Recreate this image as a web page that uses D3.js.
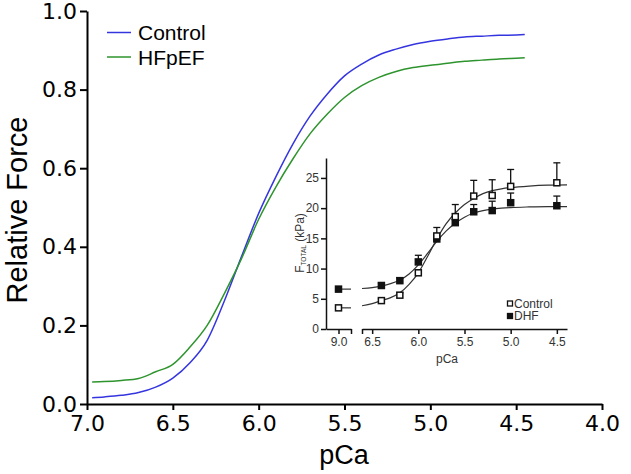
<!DOCTYPE html>
<html>
<head>
<meta charset="utf-8">
<script src="https://cdn.jsdelivr.net/npm/d3@7"></script>
<style>
  body { margin: 0; background: #fff; }
  svg { display: block; }
</style>
</head>
<body>
<svg id="chart" width="631" height="474"></svg>
<script>
// main panel: relative force vs pCa
var pCaMain = [6.97, 6.9, 6.8, 6.7, 6.6, 6.5, 6.4, 6.3, 6.2, 6.1, 6.0, 5.9, 5.8, 5.7, 5.6, 5.5, 5.4, 5.3, 5.2, 5.1, 5.0, 4.9, 4.8, 4.7, 4.6, 4.5, 4.45];
var controlForce = [0.016, 0.018, 0.022, 0.029, 0.043, 0.066, 0.105, 0.162, 0.262, 0.375, 0.485, 0.578, 0.662, 0.733, 0.789, 0.835, 0.865, 0.888, 0.903, 0.915, 0.923, 0.929, 0.934, 0.936, 0.938, 0.939, 0.94];
var hfpefForce = [0.056, 0.057, 0.06, 0.065, 0.082, 0.101, 0.145, 0.2, 0.281, 0.37, 0.47, 0.552, 0.624, 0.688, 0.738, 0.78, 0.81, 0.831, 0.846, 0.856, 0.862, 0.867, 0.872, 0.875, 0.878, 0.88, 0.881];
var xTicks = [7.0, 6.5, 6.0, 5.5, 5.0, 4.5, 4.0];
var yTicks = [0.0, 0.2, 0.4, 0.6, 0.8, 1.0];
var seriesNames = ['Control', 'HFpEF'];
var seriesColors = ['#3535e0', '#2e942e'];

// inset: F total (kPa) vs pCa, measured points with SEM
var insetPCa = [9.0, 6.4, 6.2, 6.0, 5.8, 5.6, 5.4, 5.2, 5.0, 4.5];
var ctrlKPa = [3.5, 4.7, 5.6, 9.3, 15.4, 18.6, 22.0, 22.1, 23.6, 24.2];
var ctrlSem = [0.3, 0.3, 0.4, 0.5, 1.4, 2.0, 2.6, 2.6, 2.8, 3.3];
var dhfKPa = [6.6, 7.2, 8.0, 11.1, 14.9, 17.6, 19.4, 19.6, 20.9, 20.4];
var dhfSem = [0.4, 0.4, 0.5, 1.1, 0.8, 1.0, 1.2, 1.55, 1.6, 1.6];
// fitted curves in the inset
var fitPCa = [6.61, 6.5, 6.4, 6.3, 6.2, 6.1, 6.0, 5.9, 5.8, 5.7, 5.6, 5.5, 5.4, 5.3, 5.2, 5.1, 5.0, 4.8, 4.6, 4.39];
var ctrlFit = [3.85, 4.2, 4.7, 5.2, 6.0, 7.4, 9.3, 12.0, 14.9, 17.4, 19.2, 20.6, 21.6, 22.4, 22.9, 23.2, 23.4, 23.65, 23.8, 23.85];
var dhfFit = [6.7, 6.85, 7.1, 7.5, 8.1, 9.1, 10.6, 12.5, 14.5, 16.2, 17.5, 18.5, 19.2, 19.6, 19.85, 20.0, 20.1, 20.2, 20.25, 20.25];
var stubPCa = [9.0, 8.85];
var insetYTicks = [0, 5, 10, 15, 20, 25];
var insetXTicksLeft = [9.0];
var insetXTicksRight = [6.5, 6.0, 5.5, 5.0, 4.5];
var insetNames = ['Control', 'DHF'];

var svg = d3.select('#chart');

var x = d3.scaleLinear().domain([7.0, 4.0]).range([87, 602]);
var y = d3.scaleLinear().domain([0, 1.0]).range([404, 11]);

var fmt1 = d3.format('.1f');

var gx = svg.append('g')
    .attr('transform', 'translate(0,404)')
    .call(d3.axisBottom(x).tickValues(xTicks).tickFormat(fmt1).tickSize(6).tickSizeOuter(0).tickPadding(5));
var gy = svg.append('g')
    .attr('transform', 'translate(87,0)')
    .call(d3.axisLeft(y).tickValues(yTicks).tickFormat(fmt1).tickSize(7).tickSizeOuter(0).tickPadding(3));

[gx, gy].forEach(function(g) {
    g.selectAll('.domain').attr('stroke', '#000').attr('stroke-width', 2);
    g.selectAll('.tick line').attr('stroke', '#000').attr('stroke-width', 2);
    g.selectAll('.tick text')
        .attr('fill', '#000')
        .style('font-family', 'DejaVu Sans')
        .style('font-size', '22px');
});

svg.append('text')
    .attr('transform', 'translate(27,210) rotate(-90)')
    .attr('text-anchor', 'middle')
    .style('font-family', 'Liberation Sans')
    .style('font-size', '29px')
    .text('Relative Force');

svg.append('text')
    .attr('x', 344)
    .attr('y', 464)
    .attr('text-anchor', 'middle')
    .style('font-family', 'Liberation Sans')
    .style('font-size', '27px')
    .text('pCa');

var line = d3.line()
    .curve(d3.curveMonotoneX)
    .x(function(d) { return x(d[0]); })
    .y(function(d) { return y(d[1]); });

[controlForce, hfpefForce].forEach(function(vals, i) {
    svg.append('path')
        .datum(pCaMain.map(function(p, j) { return [p, vals[j]]; }))
        .attr('fill', 'none')
        .attr('stroke', seriesColors[i])
        .attr('stroke-width', 1.5)
        .attr('d', line);
});

// legend
seriesNames.forEach(function(name, i) {
    var ly = 32.5 + i * 24.5;
    svg.append('line')
        .attr('x1', 107).attr('x2', 131)
        .attr('y1', ly).attr('y2', ly)
        .attr('stroke', seriesColors[i])
        .attr('stroke-width', 1.5);
    svg.append('text')
        .attr('x', 138)
        .attr('y', ly + 7.5)
        .style('font-family', 'Liberation Sans')
        .style('font-size', '21px')
        .text(name);
});

// ---- inset ----
var ixL = d3.scaleLinear().domain([9.15, 8.85]).range([326, 351]);
var ixR = d3.scaleLinear().domain([6.61, 4.39]).range([362, 567]);
var iy = d3.scaleLinear().domain([0, 28.3]).range([329, 158]);

function ix(p) {
    return p > 7 ? ixL(p) : ixR(p);
}

var inset = svg.append('g');

var iFmt = function(d) { return fmt1(d); };

var iyAxis = inset.append('g')
    .attr('transform', 'translate(326,0)')
    .call(d3.axisLeft(iy).tickValues(insetYTicks).tickSize(5).tickSizeOuter(0).tickPadding(2));
var ixAxisL = inset.append('g')
    .attr('transform', 'translate(0,329)')
    .call(d3.axisBottom(ixL).tickValues(insetXTicksLeft.concat([8.85])).tickFormat(function(d) { return d === 8.85 ? '' : iFmt(d); }).tickSize(5).tickSizeOuter(0).tickPadding(3));
var ixAxisR = inset.append('g')
    .attr('transform', 'translate(0,329)')
    .call(d3.axisBottom(ixR).tickValues([6.61].concat(insetXTicksRight)).tickFormat(function(d) { return d === 6.61 ? '' : iFmt(d); }).tickSize(5).tickSizeOuter(0).tickPadding(3));

[iyAxis, ixAxisL, ixAxisR].forEach(function(g) {
    g.selectAll('.domain').attr('stroke', '#111').attr('stroke-width', 1.5);
    g.selectAll('.tick line').attr('stroke', '#111').attr('stroke-width', 1.5);
    g.selectAll('.tick text')
        .attr('fill', '#333')
        .style('font-family', 'Liberation Sans')
        .style('font-size', '12px');
});

var ylab = inset.append('text')
    .attr('transform', 'translate(304,243) rotate(-90)')
    .attr('text-anchor', 'middle')
    .attr('fill', '#333')
    .style('font-family', 'Liberation Sans')
    .style('font-size', '12px');
ylab.append('tspan').text('F');
ylab.append('tspan').attr('dy', 2).style('font-size', '6.5px').text('TOTAL');
ylab.append('tspan').attr('dy', -2).text(' (kPa)');

inset.append('text')
    .attr('x', 447)
    .attr('y', 363)
    .attr('text-anchor', 'middle')
    .attr('fill', '#333')
    .style('font-family', 'Liberation Sans')
    .style('font-size', '12px')
    .text('pCa');

var iline = d3.line()
    .curve(d3.curveMonotoneX)
    .x(function(d) { return ix(d[0]); })
    .y(function(d) { return iy(d[1]); });

[ctrlFit, dhfFit].forEach(function(vals) {
    inset.append('path')
        .datum(fitPCa.map(function(p, j) { return [p, vals[j]]; }))
        .attr('fill', 'none')
        .attr('stroke', '#333')
        .attr('stroke-width', 1.2)
        .attr('d', iline);
});
// short stubs beside the pCa 9.0 points
[ctrlKPa[0], dhfKPa[0]].forEach(function(v) {
    inset.append('path')
        .datum(stubPCa.map(function(p) { return [p, v]; }))
        .attr('fill', 'none')
        .attr('stroke', '#333')
        .attr('stroke-width', 1.2)
        .attr('d', iline);
});

// error bars (upward only)
[[ctrlKPa, ctrlSem], [dhfKPa, dhfSem]].forEach(function(s) {
    insetPCa.forEach(function(p, j) {
        var cx = ix(p), y0 = iy(s[0][j]), y1 = iy(s[0][j] + s[1][j]);
        inset.append('line')
            .attr('x1', cx).attr('x2', cx).attr('y1', y0).attr('y2', y1)
            .attr('stroke', '#111').attr('stroke-width', 1.3);
        inset.append('line')
            .attr('x1', cx - 3.5).attr('x2', cx + 3.5).attr('y1', y1).attr('y2', y1)
            .attr('stroke', '#111').attr('stroke-width', 1.3);
    });
});

function squares(vals, filled) {
    inset.selectAll(null)
        .data(insetPCa.map(function(p, j) { return [p, vals[j]]; }))
        .enter().append('rect')
        .attr('x', function(d) { return ix(d[0]) - 3; })
        .attr('y', function(d) { return iy(d[1]) - 3; })
        .attr('width', 6)
        .attr('height', 6)
        .attr('fill', filled ? '#111' : '#fff')
        .attr('stroke', '#111')
        .attr('stroke-width', 1.5);
}
squares(dhfKPa, true);
squares(ctrlKPa, false);

insetNames.forEach(function(name, i) {
    var ly = 303.5 + i * 12.5;
    inset.append('rect')
        .attr('x', 507.5).attr('y', ly - 2.5)
        .attr('width', 5).attr('height', 5)
        .attr('fill', i === 0 ? '#fff' : '#111')
        .attr('stroke', '#111')
        .attr('stroke-width', 1.3);
    inset.append('text')
        .attr('x', 514)
        .attr('y', ly + 4.2)
        .attr('fill', '#333')
        .style('font-family', 'Liberation Sans')
        .style('font-size', '12px')
        .text(name);
});
</script>
</body>
</html>
